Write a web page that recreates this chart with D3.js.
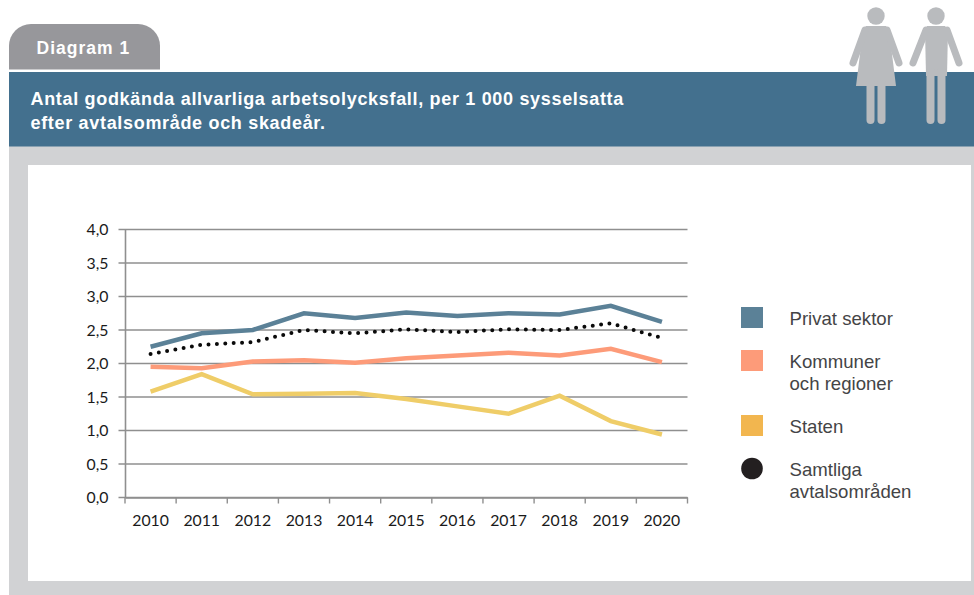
<!DOCTYPE html>
<html><head><meta charset="utf-8">
<script src="https://cdnjs.cloudflare.com/ajax/libs/d3/7.8.5/d3.min.js"></script>
<style>html,body{margin:0;padding:0;background:#fff}svg{display:block}</style>
</head><body><svg id="c" width="974" height="595"></svg>
<script>
const years = ["2010","2011","2012","2013","2014","2015","2016","2017","2018","2019","2020"];
const privat = [2.25,2.45,2.50,2.75,2.68,2.76,2.71,2.75,2.73,2.86,2.62];
const kommuner = [1.95,1.93,2.03,2.05,2.01,2.08,2.12,2.16,2.12,2.22,2.02];
const staten = [1.58,1.84,1.54,1.55,1.56,1.47,1.36,1.25,1.52,1.14,0.94];
const samtliga = [2.14,2.28,2.32,2.50,2.45,2.51,2.47,2.51,2.50,2.60,2.38];
const yTicks = [0,0.5,1,1.5,2,2.5,3,3.5,4];
const titleLines = ["Antal godkända allvarliga arbetsolycksfall, per 1 000 sysselsatta","efter avtalsområde och skadeår."];
const legendLabels = [["Privat sektor"],["Kommuner","och regioner"],["Staten"],["Samtliga","avtalsområden"]];

const svg = d3.select("#c");
const helv = "'Liberation Sans', Arial, sans-serif";

// page frame
svg.append("rect").attr("x",9).attr("y",146).attr("width",965).attr("height",449).attr("fill","#d1d2d4");
svg.append("rect").attr("x",28).attr("y",165).attr("width",943).attr("height",416).attr("fill","#fff");
svg.append("rect").attr("x",9).attr("y",72).attr("width",965).attr("height",74.5).attr("fill","#43708e");
svg.append("path").attr("d","M9 69.5V46a22 22 0 0 1 22-22H138a22 22 0 0 1 22 22V69.5Z").attr("fill","#97979b");
svg.append("text").text("Diagram 1").attr("x",36.5).attr("y",54)
  .attr("font-family",helv).attr("font-weight",700).attr("font-size",17.5).attr("letter-spacing",1).attr("fill","#fff");
svg.append("g").selectAll("text").data(titleLines).join("text").text(d=>d)
  .attr("x",30.5).attr("y",(d,i)=>104.5+i*24)
  .attr("font-family",helv).attr("font-weight",700).attr("font-size",18).attr("letter-spacing",0.68).attr("fill","#fff");

// figures
const fig = svg.append("g").attr("fill","#b9bbbe").attr("stroke","#b9bbbe").attr("stroke-linecap","round");
function limb(x1,y1,x2,y2,w){fig.append("line").attr("x1",x1).attr("y1",y1).attr("x2",x2).attr("y2",y2).attr("stroke-width",w);}
fig.append("circle").attr("cx",876).attr("cy",16).attr("r",8.7).attr("stroke","none");
fig.append("path").attr("stroke","none").attr("d","M866 26H886L889 30L896 86H856L863 30Z");
limb(865,30,853,63,7); limb(887,30,899,63,7);
limb(870.5,84,870.5,120,8); limb(881.5,84,881.5,120,8);
fig.append("circle").attr("cx",936).attr("cy",16).attr("r",8.7).attr("stroke","none");
fig.append("path").attr("stroke","none").attr("d","M927 26H945L948 30L947 76H926L925 30Z");
limb(926,30,913,63,7); limb(947,30,959,63,7);
limb(930.5,72,930.5,120,8); limb(941.5,72,941.5,120,8);

// chart
const x = d3.scaleBand().domain(years).range([125,687.5]);
const y = d3.scaleLinear().domain([0,4]).range([497.5,229.5]);
const axisCol = "#8f8f8f";
const g = svg.append("g");
g.append("g").selectAll("line").data(yTicks).join("line")
  .attr("x1",118.5).attr("x2",687.5).attr("y1",d=>y(d)).attr("y2",d=>y(d))
  .attr("stroke",axisCol).attr("stroke-width",1.4);
const yAxis = d3.axisLeft(y).tickValues(yTicks).tickSize(0).tickPadding(16.5)
  .tickFormat(d=>d3.format(".1f")(d).replace(".",","));
const ya = g.append("g").attr("transform","translate(125,0)").call(yAxis);
ya.select(".domain").attr("stroke",axisCol).attr("stroke-width",1.6);
ya.selectAll("text").attr("font-family","Lato, 'Open Sans', sans-serif").attr("font-size",15.8).attr("fill","#1a1a1a");
const xAxis = d3.axisBottom(x).tickSize(0).tickPadding(17.5);
const xa = g.append("g").attr("transform","translate(0,497.5)").call(xAxis);
xa.select(".domain").attr("stroke",axisCol).attr("stroke-width",1.4);
xa.selectAll("text").attr("font-family","Lato, 'Open Sans', sans-serif").attr("font-size",15.8).attr("fill","#1a1a1a");
g.append("g").selectAll("line").data(d3.range(years.length+1)).join("line")
  .attr("x1",i=>x.range()[0]+i*x.step()).attr("x2",i=>x.range()[0]+i*x.step())
  .attr("y1",497.5).attr("y2",503.5).attr("stroke",axisCol).attr("stroke-width",1.4);

const line = d3.line().x((d,i)=>x(years[i])+x.bandwidth()/2).y(d=>y(d));
const series = [
 {v:samtliga,c:"#0a0a0a",w:4,dash:"0 8.4"},
 {v:privat,c:"#5b8197",w:4.5},
 {v:kommuner,c:"#fd9b79",w:4.5},
 {v:staten,c:"#efcd68",w:4.5}
];
g.append("g").selectAll("path").data(series).join("path")
  .attr("d",d=>line(d.v)).attr("fill","none").attr("stroke",d=>d.c).attr("stroke-width",d=>d.w)
  .attr("stroke-dasharray",d=>d.dash||null).attr("stroke-linecap",d=>d.dash?"round":"butt").attr("stroke-linejoin","miter");

// legend
const legY = [307,350,415,459];
const legCols = ["#5b8197","#fd9b79","#f2b64f","#231f20"];
const lg = svg.append("g");
legendLabels.forEach((ls,i)=>{
  if(i<3) lg.append("rect").attr("x",741).attr("y",legY[i]).attr("width",22).attr("height",21).attr("fill",legCols[i]);
  else lg.append("circle").attr("cx",752).attr("cy",468.5).attr("r",10.8).attr("fill",legCols[i]);
  ls.forEach((t,k)=>lg.append("text").text(t).attr("x",789.5).attr("y",[324.5,367.5,432.5,475.5][i]+k*22.3)
    .attr("font-family",helv).attr("font-size",18.6).attr("fill","#444446"));
});
</script></body></html>
